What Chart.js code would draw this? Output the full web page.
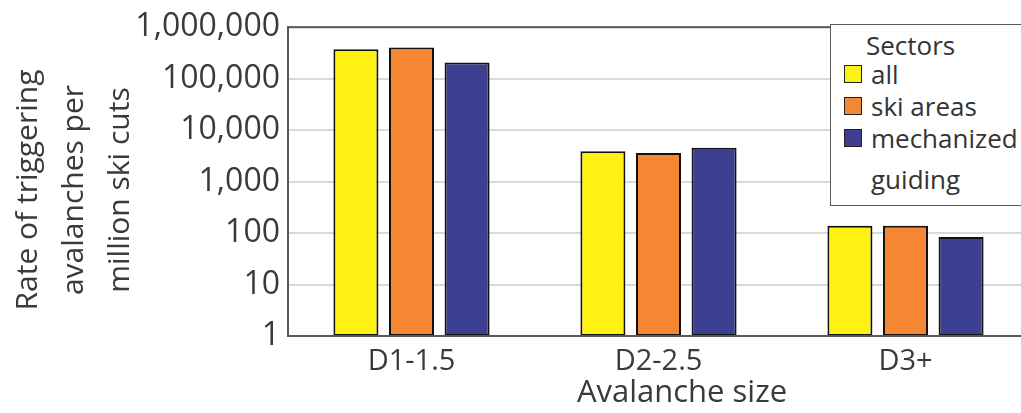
<!DOCTYPE html>
<html>
<head>
<meta charset="utf-8">
<script src="https://cdn.jsdelivr.net/npm/chart.js@4.4.1/dist/chart.umd.min.js"></script>
<style>
  html, body { margin: 0; padding: 0; background: #fff; overflow: hidden; }
  #wrap { position: relative; width: 1040px; height: 413px; }
  #legend {
    position: absolute; left: 830px; top: 24px; width: 220px; height: 182px;
    box-sizing: border-box; border: 1.5px solid #595959; background: #fff;
    font-family: "Open Sans", sans-serif; font-size: 26px; color: #333;
  }
  #legend .title { position: absolute; left: 35px; top: 2px; line-height: 36px; }
  #legend .item { position: absolute; left: 40px; width: 152px; line-height: 41px; }
  #legend .swatch { position: absolute; left: 13px; width: 18px; height: 18px; box-sizing: border-box; border: 1.5px solid #222; }
</style>
</head>
<body>
<div id="wrap">
  <canvas id="chart"></canvas>
  <div id="legend"><div class="title">Sectors</div></div>
</div>
<script>
const categories = ["D1-1.5", "D2-2.5", "D3+"];
const sectors = ["all", "ski areas", "mechanized guiding"];
const allValues = [371000, 3900, 138];
const skiAreaValues = [405000, 3600, 138];
const mechanizedValues = [207000, 4550, 84];
const yTicks = [1, 10, 100, 1000, 10000, 100000, 1000000];
const yTitle = ["Rate of triggering", "avalanches per", "million ski cuts"];
const xTitle = "Avalanche size";

const colors = ["#fff212", "#f58733", "#3d3f91"];
const textColor = "#3a3a3a";
const font = "'Open Sans', sans-serif";

const seriesValues = [allValues, skiAreaValues, mechanizedValues];

// frame round the plot area + axis titles
const framePlugin = {
  id: "frame",
  afterDraw(chart) {
    const { ctx, chartArea: a } = chart;
    ctx.save();
    ctx.strokeStyle = "#595959";
    ctx.lineWidth = 2;
    ctx.strokeRect(a.left, a.top, a.right - a.left, a.bottom - a.top);
    ctx.fillStyle = textColor;
    ctx.textAlign = "center";
    ctx.textBaseline = "middle";
    ctx.font = "31px " + font;
    ctx.fillText(xTitle, 682, 393);
    ctx.font = "30px " + font;
    yTitle.forEach((line, i) => {
      ctx.save();
      ctx.translate(28 + i * 46, 190);
      ctx.rotate(-Math.PI / 2);
      ctx.fillText(line, 0, 0);
      ctx.restore();
    });
    ctx.restore();
  }
};

new Chart(document.getElementById("chart"), {
  type: "bar",
  data: {
    labels: categories,
    datasets: sectors.map((s, i) => ({
      label: s,
      data: seriesValues[i],
      backgroundColor: colors[i],
      borderColor: "#111",
      borderWidth: 2,
      borderSkipped: false,
      categoryPercentage: 0.675,
      barPercentage: 0.81
    }))
  },
  options: {
    responsive: true,
    maintainAspectRatio: false,
    animation: false,
    layout: { padding: { top: 24, right: 11, left: 0, bottom: 0 } },
    plugins: { legend: { display: false }, tooltip: { enabled: false } },
    scales: {
      x: {
        grid: { display: false },
        border: { color: "#595959", width: 2 },
        ticks: { color: textColor, font: { family: font, size: 29 }, padding: 0 },
        afterFit(scale) { scale.height = 77; }
      },
      y: {
        type: "logarithmic",
        min: 1,
        max: 1000000,
        afterBuildTicks(scale) { scale.ticks = yTicks.map(v => ({ value: v })); },
        ticks: {
          color: textColor,
          font: { family: font, size: 32 },
          padding: 8,
          callback: v => Number(v).toLocaleString("en-US")
        },
        grid: { color: "#d9d9d9", lineWidth: 2, drawTicks: false },
        border: { color: "#595959", width: 2 },
        afterFit(scale) { scale.width = 288; }
      }
    }
  },
  plugins: [framePlugin]
});

// legend box
const legend = document.getElementById("legend");
sectors.forEach((s, i) => {
  const center = 49 + i * 32;
  const sw = document.createElement("div");
  sw.className = "swatch";
  sw.style.top = (center - 9) + "px";
  sw.style.background = colors[i];
  legend.appendChild(sw);
  const t = document.createElement("div");
  t.className = "item";
  t.style.top = (center - 20.5) + "px";
  t.textContent = s;
  legend.appendChild(t);
});
</script>
</body>
</html>
